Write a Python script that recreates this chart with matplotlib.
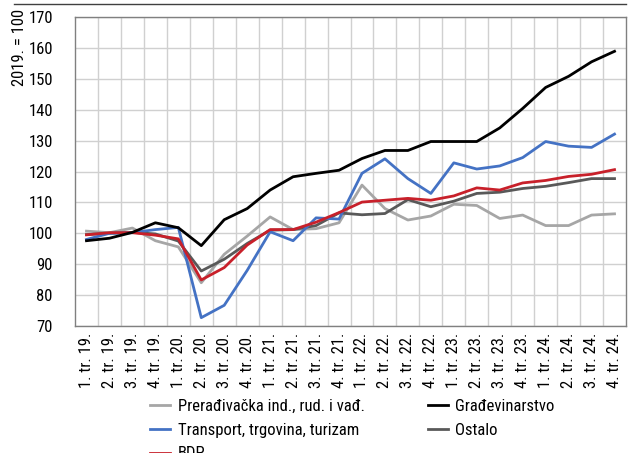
import matplotlib
matplotlib.use("Agg")
import matplotlib.pyplot as plt
from matplotlib import font_manager
from matplotlib.lines import Line2D

names = {f.name for f in font_manager.fontManager.ttflist}
fams = [n for n in ["Roboto Condensed", "Archivo Narrow", "PT Sans Narrow", "Liberation Sans"] if n in names]
plt.rcParams['font.family'] = fams[:1] + ['DejaVu Sans']

categories = [f"{q}. tr. {y}." for y in ["19", "20", "21", "22", "23", "24"] for q in range(1, 5)]

preradivacka = [100.7, 100.2, 101.7, 97.6, 95.6, 84.0, 93.2, 99.1, 105.3, 101.2, 101.5, 103.4,
                115.6, 108.0, 104.3, 105.6, 109.4, 109.0, 104.8, 105.9, 102.5, 102.5, 105.9, 106.3]
gradevinarstvo = [97.6, 98.4, 100.3, 103.4, 101.8, 96.0, 104.4, 108.0, 114.0, 118.3, 119.4, 120.4,
                  124.2, 126.8, 126.8, 129.7, 129.7, 129.7, 134.1, 140.4, 147.2, 150.8, 155.5, 158.9]
transport = [98.0, 100.0, 100.2, 101.2, 101.9, 72.7, 76.7, 88.0, 100.5, 97.6, 105.0, 104.6,
             119.4, 124.1, 117.7, 112.9, 122.8, 120.8, 121.8, 124.5, 129.7, 128.2, 127.8, 132.1]
ostalo = [99.6, 100.0, 100.3, 99.8, 97.5, 87.8, 91.6, 96.7, 101.0, 101.2, 102.5, 106.6,
          106.0, 106.4, 110.9, 108.6, 110.4, 112.9, 113.3, 114.5, 115.2, 116.4, 117.7, 117.7]
bdp = [99.5, 100.2, 100.2, 99.4, 98.2, 84.9, 88.9, 96.2, 101.2, 101.2, 103.6, 106.7,
       110.1, 110.7, 111.3, 110.7, 112.1, 114.7, 114.0, 116.3, 117.1, 118.4, 119.1, 120.6]

series = [
    ("Prerađivačka ind., rud. i vađ.", preradivacka, "#a6a6a6"),
    ("Transport, trgovina, turizam", transport, "#4472c4"),
    ("BDP", bdp, "#c8202a"),
    ("Građevinarstvo", gradevinarstvo, "#000000"),
    ("Ostalo", ostalo, "#595959"),
]
zorder = {"Prerađivačka ind., rud. i vađ.": 2, "Ostalo": 3, "Transport, trgovina, turizam": 4,
          "BDP": 5, "Građevinarstvo": 6}

fig = plt.figure(figsize=(6.28, 4.53), dpi=100)
ax = fig.add_axes([75/628, 1-326/453, (626-75)/628, (326-17)/453])

x = list(range(len(categories)))
for name, vals, col in series:
    ax.plot(x, vals, color=col, lw=2.0, label=name, zorder=zorder[name], solid_joinstyle='round')

ax.set_xlim(-0.5, len(categories) - 0.5)
ax.set_ylim(70, 170)
ax.set_yticks(range(70, 171, 10))
ax.set_xticks(x)
ax.set_xticklabels(categories, rotation=90, fontsize=12)
ax.set_xticks([i + 0.5 for i in range(len(categories) - 1)], minor=True)
ax.tick_params(axis='both', which='both', length=0, colors='#000000')
ax.tick_params(axis='y', pad=16, labelsize=12)
ax.tick_params(axis='x', pad=5)
ax.grid(axis='y', which='major', color='#d0d0d0', lw=1, zorder=0)
ax.grid(axis='x', which='minor', color='#d0d0d0', lw=1, zorder=0)
ax.set_axisbelow(True)
for s in ax.spines.values():
    s.set_color('#808080')
    s.set_linewidth(1)

fig.text(20/628, 1-9/453, "2019. = 100", rotation=90, ha='center', va='top', fontsize=12)

fig.add_artist(Line2D([14/628, 626/628], [1-4/453, 1-4/453], color='#404040', lw=1))

leg = ax.legend(loc='upper left', bbox_to_anchor=(150/628, 1-399/453), bbox_transform=fig.transFigure,
                ncol=2, frameon=False, fontsize=12, handlelength=1.2, handletextpad=0.45,
                columnspacing=3.8, labelspacing=0.52, borderaxespad=0, borderpad=0)

fig.savefig("out.png", dpi=100)
